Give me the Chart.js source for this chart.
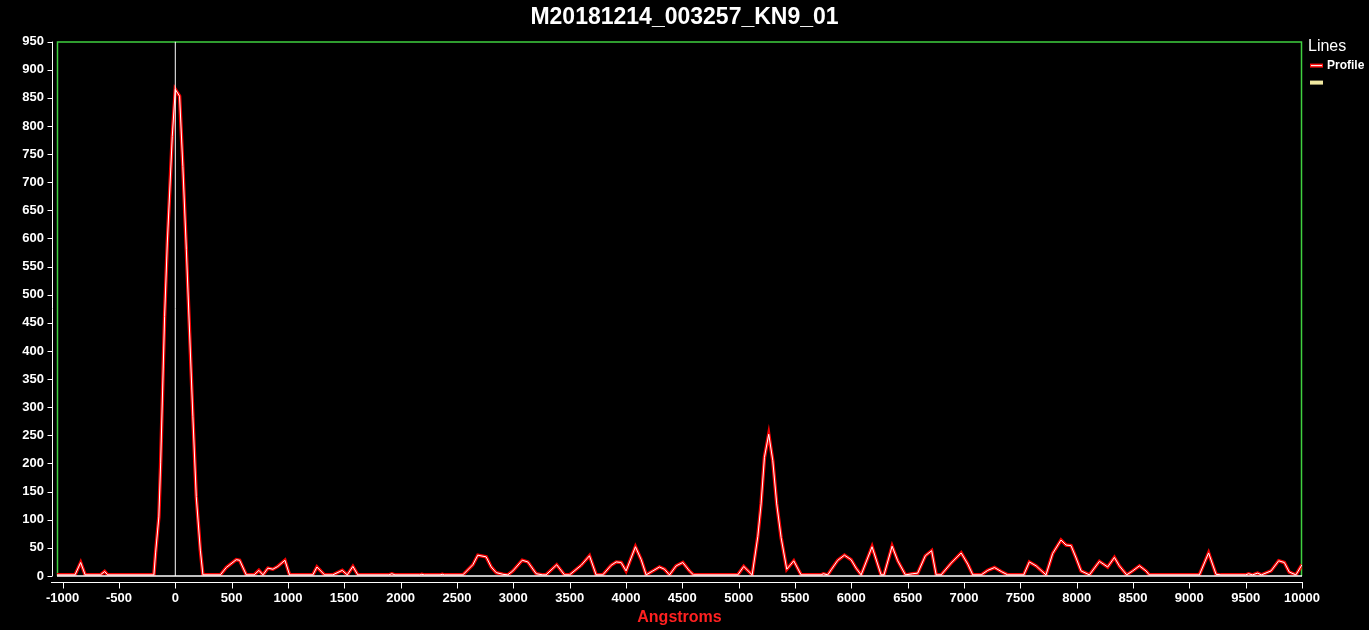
<!DOCTYPE html>
<html>
<head>
<meta charset="UTF-8">
<title>M20181214_003257_KN9_01</title>
<script src="https://cdn.jsdelivr.net/npm/chart.js"></script>
<style>
  html, body { margin: 0; padding: 0; background: #000; }
</style>
</head>
<body>
<canvas id="profileChart" width="1369" height="630"></canvas>
<script>
  // profile (Angstroms / intensity)
  const profileX = [-1050, -890, -840, -800, -665, -627, -600, -190, -175, -146, -130, -95, -71, -27, 0, 38, 67, 98, 127, 156, 186, 222, 245,
    400, 452, 541, 571, 630, 700, 742, 778, 822, 866, 910, 973, 1014, 1221, 1257, 1325, 1398, 1482, 1526, 1576, 1620,
    1895, 1922, 1950, 2170, 2188, 2210, 2350, 2369, 2390, 2552, 2641, 2685, 2759, 2804, 2848, 2907, 2951, 2996, 3079, 3129, 3203, 3262,
    3290, 3385, 3454, 3499, 3602, 3676, 3735, 3794, 3868, 3913, 3957, 4001, 4084, 4135, 4179, 4238, 4297, 4342, 4386, 4445, 4504, 4563, 4599,
    4992, 5045, 5120, 5170, 5199, 5229, 5267, 5303, 5338, 5377, 5427, 5489, 5554, 5732, 5752, 5791, 5821, 5880, 5939, 5998, 6042, 6087,
    6184, 6264, 6290, 6362, 6412, 6480, 6545, 6589, 6657, 6713, 6753, 6797, 6886, 6975, 7034, 7078, 7153, 7211, 7271, 7330, 7388,
    7530, 7580, 7640, 7728, 7787, 7861, 7906, 7950, 7995, 8039, 8113, 8202, 8275, 8335, 8379, 8444, 8497, 8557, 8616, 8645,
    9089, 9171, 9237, 9281, 9500, 9526, 9560, 9606, 9640, 9725, 9793, 9843, 9887, 9946, 10000];
  const profileY = [2, 2, 24, 2, 2, 8, 2, 2, 41, 105, 201, 461, 592, 781, 865, 853, 728, 580, 432, 283, 141, 46, 2,
    2, 15, 29, 28, 2, 2, 10, 2, 14, 12, 17, 28, 2, 2, 16, 2, 2, 10, 2, 17, 2,
    2, 4, 2, 2, 3, 2, 2, 3, 2, 2, 20, 37, 34, 16, 6, 3, 2, 9, 28, 25, 4, 2,
    2, 20, 2, 2, 19, 36, 2, 2, 19, 25, 24, 9, 52, 29, 2, 9, 16, 12, 2, 18, 24, 9, 2,
    2, 17, 2, 70, 128, 211, 252, 205, 128, 68, 12, 27, 2, 2, 4, 2, 11, 28, 37, 29, 14, 2,
    52, 2, 2, 53, 27, 2, 4, 5, 36, 45, 2, 2, 23, 41, 21, 2, 2, 10, 15, 8, 2,
    2, 25, 18, 2, 40, 64, 55, 54, 32, 9, 2, 26, 16, 33, 18, 2, 9, 18, 9, 2,
    2, 41, 3, 2, 2, 4, 2, 5, 2, 9, 27, 24, 7, 2, 20];

  const xTicks = [-1000, -500, 0, 500, 1000, 1500, 2000, 2500, 3000, 3500, 4000, 4500,
    5000, 5500, 6000, 6500, 7000, 7500, 8000, 8500, 9000, 9500, 10000];
  const xMin = -1050, xMax = 10000;
  const yMin = 0, yMax = 950, yStep = 50;
  const cursorX = [0, 0];
  const cursorY = [yMin, yMax];
  const legendLabels = ['Profile', ''];
  const legendColors = ['#ff1010', '#f0e8a0'];

  const font = 'Arial, "Liberation Sans", sans-serif';
  const profilePts = profileX.map((x, i) => ({ x: x, y: profileY[i] }));

  const bgPlugin = {
    id: 'bg',
    beforeDraw(chart) {
      const c = chart.ctx;
      c.save();
      c.fillStyle = '#000';
      c.fillRect(0, 0, chart.width, chart.height);
      c.restore();
    },
    beforeDatasetsDraw(chart) {
      // green frame round the plot (bottom edge is the white zero line)
      const a = chart.chartArea, c = chart.ctx;
      c.save();
      c.strokeStyle = '#3fd03f';
      c.lineWidth = 1.5;
      c.beginPath();
      c.moveTo(a.left + 0.5, a.bottom);
      c.lineTo(a.left + 0.5, a.top + 0.5);
      c.lineTo(a.right - 0.5, a.top + 0.5);
      c.lineTo(a.right - 0.5, a.bottom);
      c.stroke();
      c.restore();
    }
  };

  // axis lines sit a few pixels off the plot frame
  const axesPlugin = {
    id: 'axes',
    afterDraw(chart) {
      const c = chart.ctx, a = chart.chartArea;
      const xs = chart.scales.x, ys = chart.scales.y;
      c.save();
      c.strokeStyle = '#fff';
      c.lineWidth = 1;
      c.beginPath();
      const yl = a.left - 5 + 0.5;
      c.moveTo(yl, a.top);
      c.lineTo(yl, a.bottom);
      ys.ticks.forEach(t => {
        const p = Math.round(ys.getPixelForValue(t.value)) + 0.5;
        c.moveTo(yl - 5, p);
        c.lineTo(yl, p);
      });
      const xl = a.bottom + 6 + 0.5;
      c.moveTo(a.left - 6, xl);
      c.lineTo(a.right + 1, xl);
      xs.ticks.forEach(t => {
        const p = Math.round(xs.getPixelForValue(t.value)) + 0.5;
        c.moveTo(p, xl);
        c.lineTo(p, xl + 6);
      });
      c.stroke();
      c.restore();
    }
  };

  const legendPlugin = {
    id: 'sideLegend',
    afterDraw(chart) {
      const c = chart.ctx, a = chart.chartArea;
      const x0 = a.right + 6;
      c.save();
      c.fillStyle = '#fff';
      c.textBaseline = 'middle';
      c.font = '16px ' + font;
      c.fillText('Lines', x0, a.top + 5);
      legendLabels.forEach((lab, i) => {
        const y = a.top + 24 + i * 17;
        c.lineWidth = 4;
        c.strokeStyle = legendColors[i];
        c.beginPath();
        c.moveTo(x0 + 2, y);
        c.lineTo(x0 + 15, y);
        c.stroke();
        if (i === 0) {
          c.lineWidth = 1;
          c.strokeStyle = '#fff';
          c.beginPath();
          c.moveTo(x0 + 3, y);
          c.lineTo(x0 + 14, y);
          c.stroke();
        }
        c.font = 'bold 12px ' + font;
        c.fillStyle = '#fff';
        c.fillText(lab, x0 + 19, y);
      });
      c.restore();
    }
  };

  const ctx = document.getElementById('profileChart').getContext('2d');
  const profileChart = new Chart(ctx, {
    type: 'scatter',
    data: {
      datasets: [
        {
          label: 'Profile',
          data: profilePts,
          showLine: true,
          borderColor: '#ffffff',
          borderWidth: 1,
          pointRadius: 0,
          tension: 0
        },
        {
          label: 'cursor',
          data: cursorX.map((x, i) => ({ x: x, y: cursorY[i] })),
          showLine: true,
          borderColor: '#ffffff',
          borderWidth: 1,
          pointRadius: 0
        },
        {
          label: 'zero',
          data: [{ x: xMin, y: 0 }, { x: xMax, y: 0 }],
          showLine: true,
          borderColor: '#ffffff',
          borderWidth: 1.5,
          pointRadius: 0,
          clip: 4
        },
        {
          label: 'Profile glow',
          data: profilePts,
          showLine: true,
          borderColor: 'rgba(255,0,0,0.95)',
          borderWidth: 3.5,
          pointRadius: 0,
          tension: 0
        }
      ]
    },
    options: {
      responsive: false,
      animation: false,
      layout: { padding: 0 },
      scales: {
        x: {
          type: 'linear',
          min: xMin,
          max: xMax,
          grid: { display: false, drawTicks: false },
          border: { display: false },
          afterBuildTicks(scale) {
            scale.ticks = xTicks.map(v => ({ value: v }));
          },
          ticks: {
            autoSkip: false,
            maxRotation: 0,
            padding: 15,
            color: '#fff',
            font: { family: font, size: 13, weight: 'bold' },
            callback: v => String(v)
          },
          title: {
            display: true,
            text: 'Angstroms',
            color: '#ff2020',
            font: { family: font, size: 16, weight: 'bold' },
            padding: { top: 0, bottom: 3 }
          },
          afterFit(scale) { scale.height = 54; }
        },
        y: {
          min: yMin,
          max: yMax,
          grid: { display: false, drawTicks: false },
          border: { display: false },
          ticks: {
            stepSize: yStep,
            autoSkip: false,
            padding: 13,
            color: '#fff',
            font: { family: font, size: 13, weight: 'bold' },
            callback: v => String(v)
          },
          afterFit(scale) { scale.width = 57; }
        },
        // empty strip on the right that holds the legend
        yRight: {
          position: 'right',
          min: yMin,
          max: yMax,
          grid: { display: false, drawTicks: false },
          border: { display: false },
          ticks: { display: false },
          afterFit(scale) { scale.width = 67; }
        }
      },
      plugins: {
        legend: { display: false },
        tooltip: { enabled: false },
        title: {
          display: true,
          text: 'M20181214_003257_KN9_01',
          color: '#fff',
          font: { family: font, size: 23, weight: 'bold' },
          padding: { top: 4, bottom: 10 }
        }
      }
    },
    plugins: [bgPlugin, axesPlugin, legendPlugin]
  });
</script>
</body>
</html>
